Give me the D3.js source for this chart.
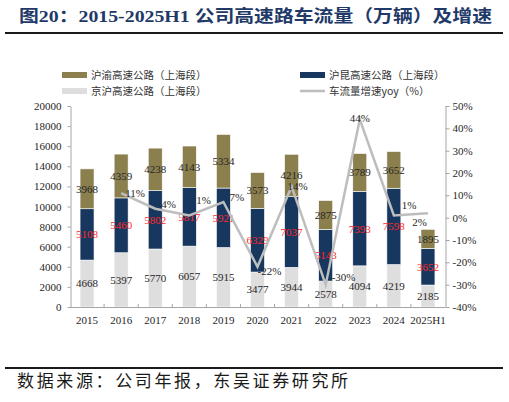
<!DOCTYPE html>
<html>
<head>
<meta charset="utf-8">
<script src="https://cdn.jsdelivr.net/npm/d3@7"></script>
<style>
  body { margin: 0; background: #fff; }
  svg { display: block; }
</style>
</head>
<body>
<div id="chart"></div>
<script>
// chart values
const years = ['2015', '2016', '2017', '2018', '2019', '2020', '2021', '2022', '2023', '2024', '2025H1'];
const jinghu = [4668, 5397, 5770, 6057, 5915, 3477, 3944, 2578, 4094, 4219, 2185];   // 京沪高速公路（上海段）
const hukun  = [5108, 5460, 5802, 5817, 5921, 6329, 7037, 5143, 7393, 7598, 3652];   // 沪昆高速公路（上海段）
const huyu   = [3968, 4359, 4238, 4143, 5334, 3573, 4216, 2875, 3789, 3652, 1895];   // 沪渝高速公路（上海段）
const growthYears = ['2016', '2017', '2018', '2019', '2020', '2021', '2022', '2023', '2024', '2025H1'];
const growth = [0.11, 0.04, 0.01, 0.07, -0.22, 0.14, -0.30, 0.44, 0.01, 0.02];
const leftTicks = [0, 2000, 4000, 6000, 8000, 10000, 12000, 14000, 16000, 18000, 20000];
const rightTicks = [-0.4, -0.3, -0.2, -0.1, 0, 0.1, 0.2, 0.3, 0.4, 0.5];

// hand placement of the yoy labels, like the original
const growthLabelPlace = [
  [4, 0, 'start'], [6, -5, 'start'], [7, -15, 'start'], [6, -5, 'start'], [0, 4, 'start'],
  [-4, 0, 'start'], [6, -8, 'start'], [0, -1, 'middle'], [8, -10, 'start'], [-1, 9, 'end']
];

const colors = { jinghu: '#dedede', hukun: '#17375e', huyu: '#8b7f4e', line: '#bdbdbd' };
const numFont = '"Liberation Serif", "Times New Roman", serif';
const cjkFont = '"Noto Sans CJK SC", "Liberation Serif", serif';

const W = 509, H = 402;
const plot = { left: 70, right: 445, top: 106, bottom: 307 };

const svg = d3.select('#chart').append('svg')
    .attr('width', W)
    .attr('height', H);

// title
svg.append('text')
    .attr('x', 19)
    .attr('y', 22)
    .attr('fill', '#1f3a68')
    .style('font-family', '"Liberation Serif", "Noto Sans CJK SC", serif')
    .style('font-weight', 'bold')
    .style('font-size', '17px')
    .attr('textLength', 473)
    .attr('lengthAdjust', 'spacingAndGlyphs')
    .text('图20：2015-2025H1 公司高速路车流量（万辆）及增速');

svg.append('line')
    .attr('x1', 5).attr('x2', 503)
    .attr('y1', 33).attr('y2', 33)
    .attr('stroke', '#1a1a1a')
    .attr('stroke-width', 2);

// scales
const x = d3.scaleBand()
    .domain(years)
    .range([plot.left, plot.right])
    .paddingInner(0.59)
    .paddingOuter(0.295);

const yL = d3.scaleLinear()
    .domain([0, 20000])
    .range([plot.bottom, plot.top]);

const yR = d3.scaleLinear()
    .domain([-0.4, 0.5])
    .range([plot.bottom, plot.top]);

const rows = years.map((y, i) => ({ year: y, jinghu: jinghu[i], hukun: hukun[i], huyu: huyu[i] }));
const keys = ['jinghu', 'hukun', 'huyu'];
const stacked = d3.stack().keys(keys)(rows);

// bars
const layers = svg.append('g').selectAll('g')
    .data(stacked)
    .enter().append('g')
      .attr('fill', d => colors[d.key]);

layers.selectAll('rect')
    .data(d => d)
    .enter().append('rect')
      .attr('x', d => x(d.data.year))
      .attr('width', x.bandwidth())
      .attr('y', d => yL(d[1]))
      .attr('height', d => yL(d[0]) - yL(d[1]))
      .attr('stroke', '#ffffff')
      .attr('stroke-width', 0.6);

// bar labels
const labelColor = { jinghu: '#262626', hukun: '#ff2a2a', huyu: '#262626' };
layers.selectAll('text')
    .data(d => d.map(v => ({ v, key: d.key })))
    .enter().append('text')
      .attr('x', d => x(d.v.data.year) + x.bandwidth() / 2)
      .attr('y', d => yL((d.v[0] + d.v[1]) / 2))
      .attr('dy', '0.35em')
      .attr('text-anchor', 'middle')
      .attr('fill', d => labelColor[d.key])
      .style('font-family', numFont)
      .style('font-size', '11px')
      .text(d => d.v.data[d.key]);

// axes
const axisColor = '#a6a6a6';

const gx = svg.append('g');
gx.append('line')
    .attr('x1', plot.left).attr('x2', plot.right)
    .attr('y1', plot.bottom + 0.5).attr('y2', plot.bottom + 0.5)
    .attr('stroke', axisColor);
const half = (x.step() - x.bandwidth()) / 2;
gx.selectAll('.tick-mark')
    .data(years.slice(1))
    .enter().append('line')
      .attr('class', 'tick-mark')
      .attr('x1', d => x(d) - half).attr('x2', d => x(d) - half)
      .attr('y1', plot.bottom - 3).attr('y2', plot.bottom + 0.5)
      .attr('stroke', axisColor);
gx.selectAll('.xlab')
    .data(years)
    .enter().append('text')
      .attr('class', 'xlab')
      .attr('x', d => x(d) + x.bandwidth() / 2)
      .attr('y', 324)
      .attr('text-anchor', 'middle')
      .attr('fill', '#262626')
      .style('font-family', numFont)
      .style('font-size', '11px')
      .text(d => d);

const gl = svg.append('g')
    .attr('transform', `translate(${plot.left + 0.5},0)`)
    .call(d3.axisLeft(yL).tickValues(leftTicks).tickSize(3).tickPadding(6).tickSizeOuter(0)
      .tickFormat(d3.format('d')));
const gr = svg.append('g')
    .attr('transform', `translate(${plot.right + 0.5},0)`)
    .call(d3.axisRight(yR).tickValues(rightTicks).tickSize(4).tickPadding(3).tickSizeOuter(0)
      .tickFormat(d => Math.round(d * 100) + '%'));

[gl, gr].forEach(g => {
  g.select('.domain').attr('stroke', axisColor);
  g.selectAll('.tick line').attr('stroke', axisColor);
  g.selectAll('.tick text')
      .attr('fill', '#262626')
      .style('font-family', numFont)
      .style('font-size', '11px');
});

// growth line
const line = d3.line()
    .x((d, i) => x(growthYears[i]) + x.bandwidth() / 2)
    .y(d => yR(d));

svg.append('path')
    .datum(growth)
    .attr('fill', 'none')
    .attr('stroke', colors.line)
    .attr('stroke-width', 2.5)
    .attr('d', line);

svg.append('g').selectAll('text')
    .data(growth)
    .enter().append('text')
      .attr('x', (d, i) => x(growthYears[i]) + x.bandwidth() / 2 + growthLabelPlace[i][0])
      .attr('y', (d, i) => yR(d) + growthLabelPlace[i][1])
      .attr('dy', '0.35em')
      .attr('text-anchor', (d, i) => growthLabelPlace[i][2])
      .attr('fill', '#262626')
      .style('font-family', numFont)
      .style('font-size', '11px')
      .text(d => Math.round(d * 100) + '%');

// legend
const legend = [
  { label: '沪渝高速公路（上海段）', type: 'bar', color: colors.huyu, x: 62, y: 75 },
  { label: '沪昆高速公路（上海段）', type: 'bar', color: colors.hukun, x: 300, y: 75 },
  { label: '京沪高速公路（上海段）', type: 'bar', color: colors.jinghu, x: 62, y: 91 },
  { label: '车流量增速yoy（%）', type: 'line', color: colors.line, x: 300, y: 91 }
];
const lg = svg.append('g').selectAll('g')
    .data(legend)
    .enter().append('g')
      .attr('transform', d => `translate(${d.x},${d.y})`);
lg.append('rect')
    .attr('x', 0)
    .attr('y', d => d.type === 'bar' ? -3 : -1.25)
    .attr('width', 25)
    .attr('height', d => d.type === 'bar' ? 6 : 2.5)
    .attr('fill', d => d.color);
lg.append('text')
    .attr('x', 29)
    .attr('y', 0)
    .attr('dy', '0.36em')
    .attr('fill', '#333')
    .style('font-family', cjkFont)
    .style('font-size', '10.5px')
    .text(d => d.label);

// source
svg.append('line')
    .attr('x1', 5).attr('x2', 503)
    .attr('y1', 368).attr('y2', 368)
    .attr('stroke', '#1a1a1a')
    .attr('stroke-width', 2);

svg.append('text')
    .attr('x', 17)
    .attr('y', 387)
    .attr('fill', '#1a1a1a')
    .style('font-family', cjkFont)
    .style('font-size', '17px')
    .attr('textLength', 331)
    .attr('lengthAdjust', 'spacing')
    .text('数据来源：公司年报，东吴证券研究所');
</script>
</body>
</html>
